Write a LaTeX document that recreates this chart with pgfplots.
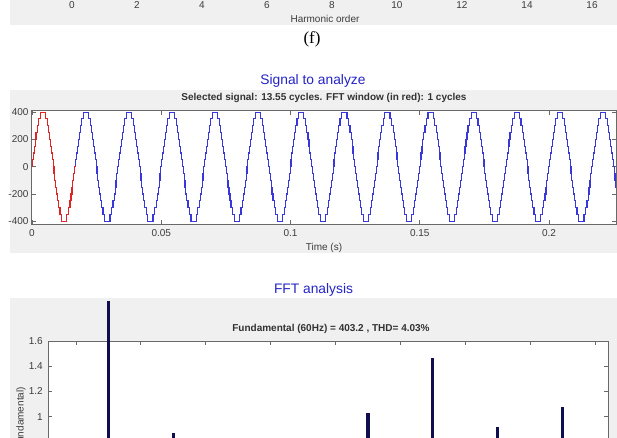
\documentclass[border=0pt]{standalone}
\usepackage{pgfplots}
\pgfplotsset{compat=1.18}
\usepackage{fontspec}
\setmainfont{Liberation Sans}
\newfontfamily\serifcap{Liberation Serif}
\definecolor{figgray}{RGB}{240,240,240}
\definecolor{axgray}{RGB}{105,105,105}
\definecolor{lblgray}{RGB}{60,60,60}
\definecolor{subgray}{RGB}{50,50,50}
\definecolor{ttlblue}{RGB}{35,35,200}
\definecolor{sigblue}{RGB}{55,55,220}
\definecolor{sigred}{RGB}{225,35,35}
\definecolor{barnavy}{RGB}{15,15,80}
\pgfplotsset{
  mat/.style={
    scale only axis,
    axis line style={draw=axgray, line width=1pt},
    tick style={draw=axgray, line width=0.6pt},
    tick align=inside,
    major tick length=4pt,
    ticklabel style={font=\fontsize{10}{12}\selectfont, text=lblgray},
    /pgf/number format/assume math mode=true,
    axis background/.style={fill=white},
    label style={font=\fontsize{10}{12}\selectfont, text=lblgray},
  }
}
\begin{document}
\begin{tikzpicture}
\useasboundingbox (0pt,0pt) rectangle (617pt,437pt);
\clip (0pt,0pt) rectangle (617pt,437pt);
% figure backgrounds
\fill[figgray] (10pt,412pt) rectangle (625pt,445pt);
\fill[figgray] (10pt,184pt) rectangle (625pt,347pt);
\fill[figgray] (10pt,-10pt) rectangle (625pt,139pt);

% ---------- panel (f) bottom strip ----------
\begin{axis}[mat, at={(45pt,439pt)}, anchor=south west, width=560pt, height=150pt,
  xmin=-0.83, xmax=16.4, ymin=0, ymax=2,
  xtick={0,2,4,6,8,10,12,14,16}, ytick=\empty,
  xlabel={Harmonic order},
  xlabel style={at={(axis description cs:0.5,0)}, anchor=center, yshift=-21pt},
]
\end{axis}
\node[font=\serifcap\fontsize{17}{20}\selectfont] at (312pt,397.5pt) {(f)};

% ---------- signal to analyze ----------
\node[font=\fontsize{13.8}{16}\selectfont, text=ttlblue] at (313pt,356pt) {Signal to analyze};
\begin{axis}[mat, at={(32pt,213pt)}, anchor=south west, width=584pt, height=113pt,
  xmin=0, xmax=0.2259, ymin=-420, ymax=408,
  xtick={0,0.05,0.1,0.15,0.2}, xticklabels={0,0.05,0.1,0.15,0.2},
  ytick={-400,-200,0,200,400},
  xticklabel style={yshift=-2pt},
  xlabel={Time (s)},
  xlabel style={at={(axis description cs:0.5,0)}, anchor=center, yshift=-24pt},
  title={Selected signal: 13.55 cycles. FFT window (in red): 1 cycles},
  title style={font=\bfseries\fontsize{10}{12}\selectfont, text=subgray, at={(axis description cs:0.5,1)}, anchor=center, yshift=7pt},
]
\addplot[const plot, draw=sigblue, line width=1.15pt] coordinates {
(0.016667,0)
(0.016832,50) (0.017164,100) (0.017504,150) (0.017859,200) (0.018238,250) (0.018659,300) (0.019155,350) (0.019839,400)
(0.021828,350) (0.022512,300) (0.023008,250) (0.023429,200) (0.023809,150) (0.024164,100) (0.024504,50) (0.024836,0)
(0.025165,-50) (0.025497,-100) (0.025837,-150) (0.026192,-200) (0.026572,-250) (0.026992,-300) (0.027489,-350) (0.028173,-400)
(0.030161,-350) (0.030845,-300) (0.031342,-250) (0.031762,-200) (0.032142,-150) (0.032497,-100) (0.032837,-50) (0.033169,0)
(0.033498,50) (0.033830,100) (0.034170,150) (0.034525,200) (0.034904,250) (0.035325,300) (0.035821,350) (0.036505,400)
(0.038494,350) (0.039178,300) (0.039674,250) (0.040095,200) (0.040475,150) (0.040830,100) (0.041170,50) (0.041502,0)
(0.041831,-50) (0.042163,-100) (0.042503,-150) (0.042858,-200) (0.043238,-250) (0.043658,-300) (0.044155,-350) (0.044839,-400)
(0.046827,-350) (0.047511,-300) (0.048008,-250) (0.048428,-200) (0.048808,-150) (0.049163,-100) (0.049503,-50) (0.049835,0)
(0.050165,50) (0.050497,100) (0.050837,150) (0.051192,200) (0.051571,250) (0.051992,300) (0.052488,350) (0.053172,400)
(0.055161,350) (0.055845,300) (0.056341,250) (0.056762,200) (0.057142,150) (0.057497,100) (0.057837,50) (0.058169,0)
(0.058498,-50) (0.058830,-100) (0.059170,-150) (0.059525,-200) (0.059905,-250) (0.060325,-300) (0.060822,-350) (0.061506,-400)
(0.063494,-350) (0.064178,-300) (0.064675,-250) (0.065095,-200) (0.065475,-150) (0.065830,-100) (0.066170,-50) (0.066502,0)
(0.066832,50) (0.067164,100) (0.067504,150) (0.067859,200) (0.068238,250) (0.068659,300) (0.069155,350) (0.069839,400)
(0.071828,350) (0.072512,300) (0.073008,250) (0.073429,200) (0.073809,150) (0.074164,100) (0.074504,50) (0.074836,0)
(0.075165,-50) (0.075497,-100) (0.075837,-150) (0.076192,-200) (0.076572,-250) (0.076992,-300) (0.077489,-350) (0.078173,-400)
(0.080161,-350) (0.080845,-300) (0.081342,-250) (0.081762,-200) (0.082142,-150) (0.082497,-100) (0.082837,-50) (0.083169,0)
(0.083498,50) (0.083830,100) (0.084170,150) (0.084525,200) (0.084904,250) (0.085325,300) (0.085821,350) (0.086505,400)
(0.088494,350) (0.089178,300) (0.089674,250) (0.090095,200) (0.090475,150) (0.090830,100) (0.091170,50) (0.091502,0)
(0.091831,-50) (0.092163,-100) (0.092503,-150) (0.092858,-200) (0.093238,-250) (0.093658,-300) (0.094155,-350) (0.094839,-400)
(0.096827,-350) (0.097511,-300) (0.098008,-250) (0.098428,-200) (0.098808,-150) (0.099163,-100) (0.099503,-50) (0.099835,0)
(0.100165,50) (0.100497,100) (0.100837,150) (0.101192,200) (0.101571,250) (0.101992,300) (0.102488,350) (0.103172,400)
(0.105161,350) (0.105845,300) (0.106341,250) (0.106762,200) (0.107142,150) (0.107497,100) (0.107837,50) (0.108169,0)
(0.108498,-50) (0.108830,-100) (0.109170,-150) (0.109525,-200) (0.109905,-250) (0.110325,-300) (0.110822,-350) (0.111506,-400)
(0.113494,-350) (0.114178,-300) (0.114675,-250) (0.115095,-200) (0.115475,-150) (0.115830,-100) (0.116170,-50) (0.116502,0)
(0.116832,50) (0.117164,100) (0.117504,150) (0.117859,200) (0.118238,250) (0.118659,300) (0.119155,350) (0.119839,400)
(0.121828,350) (0.122512,300) (0.123008,250) (0.123429,200) (0.123809,150) (0.124164,100) (0.124504,50) (0.124836,0)
(0.125165,-50) (0.125497,-100) (0.125837,-150) (0.126192,-200) (0.126572,-250) (0.126992,-300) (0.127489,-350) (0.128173,-400)
(0.130161,-350) (0.130845,-300) (0.131342,-250) (0.131762,-200) (0.132142,-150) (0.132497,-100) (0.132837,-50) (0.133169,0)
(0.133498,50) (0.133830,100) (0.134170,150) (0.134525,200) (0.134904,250) (0.135325,300) (0.135821,350) (0.136505,400)
(0.138494,350) (0.139178,300) (0.139674,250) (0.140095,200) (0.140475,150) (0.140830,100) (0.141170,50) (0.141502,0)
(0.141831,-50) (0.142163,-100) (0.142503,-150) (0.142858,-200) (0.143238,-250) (0.143658,-300) (0.144155,-350) (0.144839,-400)
(0.146827,-350) (0.147511,-300) (0.148008,-250) (0.148428,-200) (0.148808,-150) (0.149163,-100) (0.149503,-50) (0.149835,0)
(0.150165,50) (0.150497,100) (0.150837,150) (0.151192,200) (0.151571,250) (0.151992,300) (0.152488,350) (0.153172,400)
(0.155161,350) (0.155845,300) (0.156341,250) (0.156762,200) (0.157142,150) (0.157497,100) (0.157837,50) (0.158169,0)
(0.158498,-50) (0.158830,-100) (0.159170,-150) (0.159525,-200) (0.159905,-250) (0.160325,-300) (0.160822,-350) (0.161506,-400)
(0.163494,-350) (0.164178,-300) (0.164675,-250) (0.165095,-200) (0.165475,-150) (0.165830,-100) (0.166170,-50) (0.166502,0)
(0.166832,50) (0.167164,100) (0.167504,150) (0.167859,200) (0.168238,250) (0.168659,300) (0.169155,350) (0.169839,400)
(0.171828,350) (0.172512,300) (0.173008,250) (0.173429,200) (0.173809,150) (0.174164,100) (0.174504,50) (0.174836,0)
(0.175165,-50) (0.175497,-100) (0.175837,-150) (0.176192,-200) (0.176572,-250) (0.176992,-300) (0.177489,-350) (0.178173,-400)
(0.180161,-350) (0.180845,-300) (0.181342,-250) (0.181762,-200) (0.182142,-150) (0.182497,-100) (0.182837,-50) (0.183169,0)
(0.183498,50) (0.183830,100) (0.184170,150) (0.184525,200) (0.184904,250) (0.185325,300) (0.185821,350) (0.186505,400)
(0.188494,350) (0.189178,300) (0.189674,250) (0.190095,200) (0.190475,150) (0.190830,100) (0.191170,50) (0.191502,0)
(0.191831,-50) (0.192163,-100) (0.192503,-150) (0.192858,-200) (0.193238,-250) (0.193658,-300) (0.194155,-350) (0.194839,-400)
(0.196827,-350) (0.197511,-300) (0.198008,-250) (0.198428,-200) (0.198808,-150) (0.199163,-100) (0.199503,-50) (0.199835,0)
(0.200165,50) (0.200497,100) (0.200837,150) (0.201192,200) (0.201571,250) (0.201992,300) (0.202488,350) (0.203172,400)
(0.205161,350) (0.205845,300) (0.206341,250) (0.206762,200) (0.207142,150) (0.207497,100) (0.207837,50) (0.208169,0)
(0.208498,-50) (0.208830,-100) (0.209170,-150) (0.209525,-200) (0.209905,-250) (0.210325,-300) (0.210822,-350) (0.211506,-400)
(0.213494,-350) (0.214178,-300) (0.214675,-250) (0.215095,-200) (0.215475,-150) (0.215830,-100) (0.216170,-50) (0.216502,0)
(0.216832,50) (0.217164,100) (0.217504,150) (0.217859,200) (0.218238,250) (0.218659,300) (0.219155,350) (0.219839,400)
(0.221828,350) (0.222512,300) (0.223008,250) (0.223429,200) (0.223809,150) (0.224164,100) (0.224504,50) (0.224836,0)
(0.225165,-50) (0.225497,-100) (0.225837,-150) (0.225900,-150)
};
\addplot[const plot, draw=sigred, line width=1.15pt] coordinates {
(0,0) (0.000165,50) (0.000497,100) (0.000837,150) (0.001192,200) (0.001571,250) (0.001992,300) (0.002488,350) (0.003172,400)
(0.005161,350) (0.005845,300) (0.006341,250) (0.006762,200) (0.007142,150) (0.007497,100) (0.007837,50) (0.008169,0)
(0.008498,-50) (0.008830,-100) (0.009170,-150) (0.009525,-200) (0.009905,-250) (0.010325,-300) (0.010822,-350) (0.011506,-400)
(0.013494,-350) (0.014178,-300) (0.014675,-250) (0.015095,-200) (0.015475,-150) (0.015830,-100) (0.016170,-50) (0.016502,0)
(0.016667,0)
};
\end{axis}

% ---------- FFT analysis ----------
\node[font=\fontsize{13.8}{16}\selectfont, text=ttlblue] at (313.5pt,147pt) {FFT analysis};
\begin{scope}
\clip (0pt,-20pt) rectangle (617pt,136pt);
\begin{axis}[mat, at={(48pt,-106pt)}, anchor=south west, width=560pt, height=202pt,
  xmin=-0.86, xmax=16.4, ymin=0, ymax=1.6, clip=false,
  xtick={0,2,4,6,8,10,12,14,16}, xticklabels=\empty,
  ytick={1,1.2,1.4,1.6},
  yticklabel style={xshift=-1.7pt},
  ylabel={Mag (\% of Fundamental)},
  ylabel style={at={(axis description cs:-0.0482,0.5)}, anchor=center},
  title={Fundamental (60Hz) = 403.2 , THD= 4.03\%},
  title style={font=\bfseries\fontsize{10}{12}\selectfont, text=subgray, at={(axis description cs:0.5,1)}, anchor=center, yshift=6pt, xshift=3pt},
]
\addplot[ycomb, draw=barnavy, line width=3.2pt] coordinates {
(1,100) (3,0.87) (9,1.03) (11,1.463) (13,0.921) (15,1.079)
};
\end{axis}
\end{scope}
\end{tikzpicture}
\end{document}
